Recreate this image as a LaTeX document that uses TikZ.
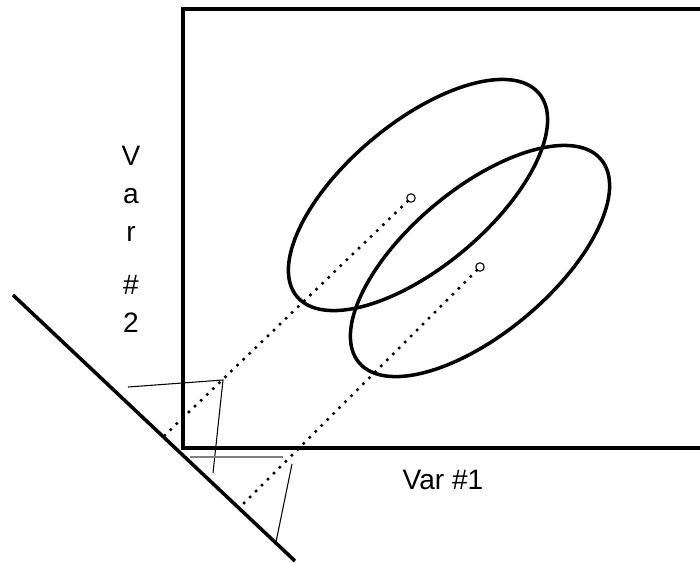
\documentclass[tikz,border=0pt]{standalone}
\usepackage{fontspec}
\setmainfont{Liberation Sans}
\usetikzlibrary{positioning,calc}
\definecolor{Ink}{HTML}{000000}
\definecolor{Shade}{HTML}{808080}

\tikzset{
	heavy/.style={draw=Ink, line width=2pt},
	fine/.style={draw=Ink, line width=0.6pt},
	projline/.style={draw=Ink, line width=2pt, line cap=round, dash pattern=on 0pt off 4.8pt},
	centre/.style={circle, draw=Ink, fill=white, line width=0.6pt, inner sep=0pt, minimum size=4.8pt},
	axislabel/.style={font=\fontsize{16}{21.5}\selectfont, inner sep=0pt, align=center}
}

\begin{document}
\begin{tikzpicture}[x=0.02cm, y=-0.02cm]
	\useasboundingbox (0,0) rectangle (700,562);
	
	% frame of the scatter plot
	\draw[heavy, line join=miter] (702,9) -- (183,9) -- (183,448) -- (702,448);
	
	% projection axis
	\coordinate (a0) at (13,295);
	\coordinate (a1) at (295,561);
	\draw[heavy] (a0) -- (a1);
	
	% the two groups
	\coordinate (c1) at (418,195);
	\coordinate (c2) at (480,261);
	\draw[heavy] (c1) ellipse [x radius=158, y radius=72, rotate=40];
	\draw[heavy] (c2) ellipse [x radius=158, y radius=72, rotate=40];
	
	% means and their projections
	\coordinate (f1) at (164,436);
	\coordinate (f2) at (239,508);
	\node[centre] (m1) at (411,198) {};
	\node[centre] (m2) at (480,267) {};
	\draw[projline] (m1) -- (f1);
	\draw[projline] (m2) -- (f2);
	
	% sketched distributions
	\coordinate (d1) at (128,387);
	\coordinate (d2) at (223,380);
	\coordinate (d3) at (213,473);
	\draw[fine] (d1) -- (d2) -- (d3);
	\coordinate (e1) at (190,457);
	\coordinate (e2) at (283,457);
	\draw[Shade, line width=1pt] (e1) -- (e2);
	\coordinate (e3) at (292,464);
	\coordinate (e4) at (276,542);
	\draw[fine] (e3) -- (e4);
	
	% labels
	\node[axislabel] (xlab) at (443,480) {Var \#1};
	\node[axislabel, anchor=north] (ylab) at (131,146) {V\\a\\r\\[9pt]\#\\2};
\end{tikzpicture}
\end{document}
